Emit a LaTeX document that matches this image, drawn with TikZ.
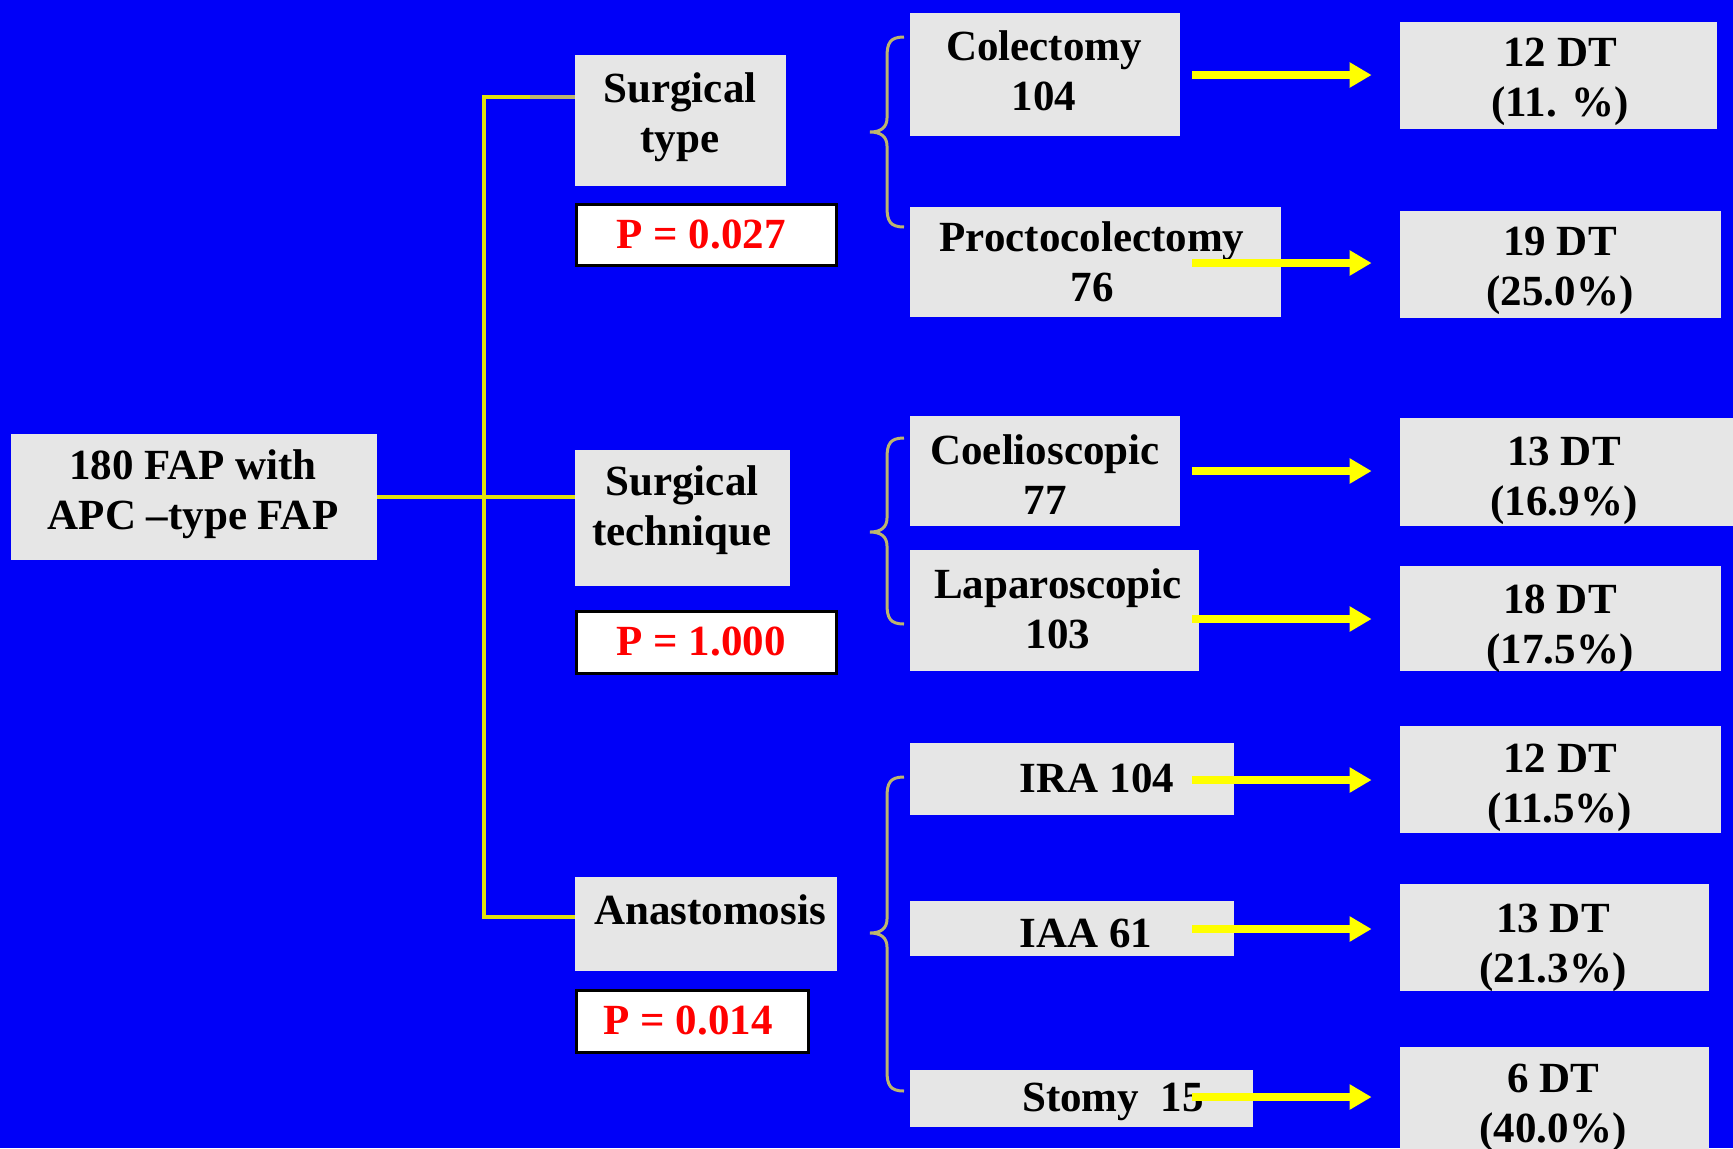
\documentclass[tikz,border=0pt]{standalone}
\usepackage{fontspec}
\setmainfont{Liberation Serif}
\usetikzlibrary{arrows.meta,fit}
\definecolor{bgblue}{HTML}{0000F8}
\definecolor{boxgray}{HTML}{E6E6E6}
\definecolor{trunkyel}{HTML}{E2E20E}
\definecolor{bracekhaki}{HTML}{BDB56E}
\definecolor{arryel}{HTML}{FFFF00}
\definecolor{pred}{HTML}{FF0000}
\tikzset{
  gbox/.style={fill=boxgray,draw=none,inner sep=0pt},
  pbox/.style={fill=white,draw=black,line width=1.5pt,inner sep=0pt},
  txt/.style={font=\fontsize{21.5}{25}\selectfont\bfseries,align=center,inner sep=0pt,text=black},
  ptxt/.style={txt,text=pred},
  trunk/.style={draw=trunkyel,line width=1.6pt},
  bracestyle/.style={draw=bracekhaki,line width=1.5pt},
  arr/.style={draw=arryel,line width=4pt,-{Triangle[length=11pt,width=12pt]}},
}
\newcommand\mybrace[3]{%
  \draw[bracestyle] (904,#1) .. controls (890,#1) and (887,{#1+6}) .. (887,{#1+20})
    -- (887,{#2-14}) .. controls (887,{#2-4}) and (880,#2) .. (870,#2)
    .. controls (880,#2) and (887,{#2+4}) .. (887,{#2+14})
    -- (887,{#3-20}) .. controls (887,{#3-6}) and (890,#3) .. (904,#3);}
\begin{document}
\begin{tikzpicture}[x=0.5pt,y=-0.5pt]
\useasboundingbox (0,0) rectangle (1733,1148);
\fill[bgblue] (0,0) rectangle (1733,1148);

% left column
\node[gbox,fit={(11,434) (377,560)}] (root) {};
\node[txt] (roott) at (193,494) {180 FAP with\\APC –type FAP};

% middle column
\node[gbox,fit={(575,55) (786,186)}] (stype) {};
\node[txt] (stypet) at (680,117) {Surgical\\type};
\node[pbox,fit={(576,204) (836,265)}] (ptype) {};
\node[ptxt] (ptypet) at (701,234) {P = 0.027};

\node[gbox,fit={(575,450) (790,586)}] (stech) {};
\node[txt] (stecht) at (682,510) {Surgical\\technique};
\node[pbox,fit={(576,611) (836,673)}] (ptech) {};
\node[ptxt] (ptecht) at (701,641) {P = 1.000};

\node[gbox,fit={(575,877) (837,971)}] (anast) {};
\node[txt] (anastt) at (710,910) {Anastomosis};
\node[pbox,fit={(576,990) (808,1052)}] (panast) {};
\node[ptxt] (panastt) at (688,1020) {P = 0.014};

% connectors of the tree
\coordinate (j1) at (484,97);
\coordinate (j2) at (484,917);
\coordinate (j1b) at (530,97);
\draw[trunk] (j1b) -- (j1) -- (j2) -- (j2 -| anast.west);
\draw[draw=bracekhaki,line width=1.6pt] (j1b) -- (j1b -| stype.west);
\draw[trunk] (root.east) -- (root.east -| stech.west);

% third column
\node[gbox,fit={(910,13) (1180,136)}] (colec) {};
\node[txt] (colect) at (1044,71) {Colectomy\\104};
\node[gbox,fit={(910,207) (1281,317)}] (procto) {};
\node[txt] (proctot) at (1092,262) {Proctocolectomy\\76};
\node[gbox,fit={(910,416) (1180,526)}] (coel) {};
\node[txt] (coelt) at (1045,475) {Coelioscopic\\77};
\node[gbox,fit={(910,550) (1199,671)}] (lapa) {};
\node[txt] (lapat) at (1058,609) {Laparoscopic\\103};
\node[gbox,fit={(910,743) (1234,815)}] (ira) {};
\node[txt] (irat) at (1097,778) {IRA 104};
\node[gbox,fit={(910,901) (1234,956)}] (iaa) {};
\node[txt] (iaat) at (1086,933) {IAA 61};
\node[gbox,fit={(910,1070) (1253,1127)}] (stomy) {};
\node[txt] (stomyt) at (1113,1102) {Stomy\ \ 15};

% braces
\mybrace{37}{132}{227}
\mybrace{438}{532}{624}
\mybrace{777}{933}{1091}

% results column
\node[gbox,fit={(1400,22) (1717,129)}] (dt1) {};
\node[txt] (dt1t) at (1560,82) {12 DT\\(11. \%)};
\node[gbox,fit={(1400,211) (1721,318)}] (dt2) {};
\node[txt] (dt2t) at (1560,271) {19 DT\\(25.0\%)};
\node[gbox,fit={(1400,418) (1733,526)}] (dt3) {};
\node[txt] (dt3t) at (1564,481) {13 DT\\(16.9\%)};
\node[gbox,fit={(1400,566) (1721,671)}] (dt4) {};
\node[txt] (dt4t) at (1560,629) {18 DT\\(17.5\%)};
\node[gbox,fit={(1400,726) (1721,833)}] (dt5) {};
\node[txt] (dt5t) at (1560,788) {12 DT\\(11.5\%)};
\node[gbox,fit={(1400,884) (1709,991)}] (dt6) {};
\node[txt] (dt6t) at (1553,948) {13 DT\\(21.3\%)};
\node[gbox,fit={(1400,1047) (1709,1170)}] (dt7) {};
\node[txt] (dt7t) at (1553,1108) {6 DT\\(40.0\%)};

% arrows
\coordinate (a1) at (1192,75);
\coordinate (a2) at (1192,263);
\coordinate (a3) at (1192,471);
\coordinate (a4) at (1192,619);
\coordinate (a5) at (1192,780);
\coordinate (a6) at (1192,929);
\coordinate (a7) at (1192,1097);
\foreach \i in {1,...,7}{
  \draw[arr,shorten >=14pt] (a\i) -- (a\i -| dt\i.west);
}
\end{tikzpicture}
\end{document}
